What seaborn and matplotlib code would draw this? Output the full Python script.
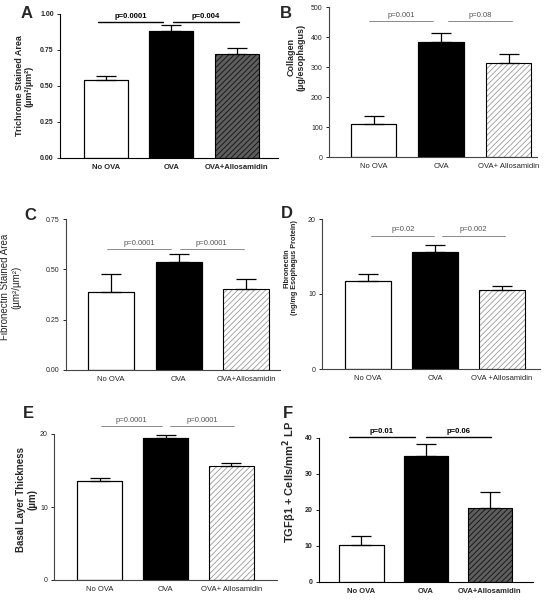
import numpy as np
import matplotlib
matplotlib.use("Agg")
import matplotlib.pyplot as plt
import seaborn as sns

sns.set_style("ticks")
plt.rcParams["font.family"] = ["Liberation Sans", "DejaVu Sans"]
plt.rcParams["hatch.linewidth"] = 0.6

# data
groups = ["No OVA", "OVA", "OVA+Allosamidin"]

trichrome = [0.54, 0.884, 0.722]
trichrome_err = [0.028, 0.037, 0.039]
trichrome_p = ["p=0.0001", "p=0.004"]

collagen = [111, 382, 314]
collagen_err = [26, 31, 30]
collagen_p = ["p=0.001", "p=0.08"]

fibro_area = [0.389, 0.538, 0.401]
fibro_area_err = [0.086, 0.036, 0.053]
fibro_area_p = ["p=0.0001", "p=0.0001"]

fibro_prot = [11.67, 15.55, 10.47]
fibro_prot_err = [0.98, 0.95, 0.63]
fibro_prot_p = ["p=0.02", "p=0.002"]

basal = [13.5, 19.4, 15.68]
basal_err = [0.45, 0.4, 0.37]
basal_p = ["p=0.0001", "p=0.0001"]

tgf = [10.3, 35.1, 20.5]
tgf_err = [2.5, 3.2, 4.6]
tgf_p = ["p=0.01", "p=0.06"]

W, H = 560, 600
fig = plt.figure(figsize=(W / 100, H / 100), dpi=100)


def px_axes(left, right, top, bottom):
    return fig.add_axes([left / W, 1 - bottom / H, (right - left) / W, (bottom - top) / H])


# lab_xy: right edge (x) and centre (y) of the y label, in pixels
panels = [
    dict(letter="A", vals=trichrome, err=trichrome_err, p=trichrome_p,
         ylim=(0, 1.0), yticks=[0, 0.25, 0.5, 0.75, 1.0], fmt="{:.2f}",
         box=(60, 278, 14, 158), xlim=(-0.7, 2.63), width=0.67,
         ylabel="Trichrome Stained Area\n(µm²/µm²)", lab_xy=(34, 86), lab_fs=6.5, lab_w="bold",
         pline=0.942, spans=[(-0.12, 0.87), (1.02, 2.03)], dark=True,
         xlabels=["No OVA", "OVA", "OVA+Allosamidin"], letter_xy=(27, 13)),
    dict(letter="B", vals=collagen, err=collagen_err, p=collagen_p,
         ylim=(0, 500), yticks=[0, 100, 200, 300, 400, 500], fmt="{:.0f}",
         box=(329, 537, 7, 157), xlim=(-0.66, 2.42), width=0.67,
         ylabel="Collagen\n(µg/esophagus)", lab_xy=(305, 57), lab_fs=6.5, lab_w="bold",
         pline=453, spans=[(-0.07, 0.88), (1.1, 2.05)], dark=False,
         xlabels=["No OVA", "OVA", "OVA+ Allosamidin"], letter_xy=(286, 13)),
    dict(letter="C", vals=fibro_area, err=fibro_area_err, p=fibro_area_p,
         ylim=(0, 0.75), yticks=[0, 0.25, 0.5, 0.75], fmt="{:.2f}",
         box=(66, 280, 219, 370), xlim=(-0.67, 2.5), width=0.68,
         ylabel="Fibronectin Stained Area\n(µm²/µm²)", lab_xy=(21, 287), lab_fs=7, lab_w="normal",
         pline=0.601, spans=[(-0.06, 0.89), (1.02, 1.96)], dark=False,
         xlabels=["No OVA", "OVA", "OVA+Allosamidin"], letter_xy=(30, 216)),
    dict(letter="D", vals=fibro_prot, err=fibro_prot_err, p=fibro_prot_p,
         ylim=(0, 20), yticks=[0, 10, 20], fmt="{:.0f}",
         box=(322, 540, 219, 369), xlim=(-0.69, 2.57), width=0.68,
         ylabel="Fibronectin\n(ng/mg Esophagus Protein)", lab_xy=(298, 268), lab_fs=5.2, lab_w="bold",
         pline=17.8, spans=[(0.05, 0.99), (1.1, 2.05)], dark=False,
         xlabels=["No OVA", "OVA", "OVA +Allosamidin"], letter_xy=(287, 213)),
    dict(letter="E", vals=basal, err=basal_err, p=basal_p,
         ylim=(0, 20), yticks=[0, 10, 20], fmt="{:.0f}",
         box=(54, 277, 434, 580), xlim=(-0.69, 2.69), width=0.68,
         ylabel="Basal Layer Thickness\n(µm)", lab_xy=(37, 500), lab_fs=7, lab_w="bold",
         pline=21.1, spans=[(0.02, 0.95), (1.07, 2.04)], dark=False,
         xlabels=["No OVA", "OVA", "OVA+ Allosamidin"], letter_xy=(28, 413)),
    dict(letter="F", vals=tgf, err=tgf_err, p=tgf_p,
         ylim=(0, 40), yticks=[0, 10, 20, 30, 40], fmt="{:.0f}",
         box=(319, 533, 438, 582), xlim=(-0.66, 2.67), width=0.69,
         ylabel="TGFβ1 + Cells/mm$^{\\mathbf{2}}$ LP", lab_xy=(299, 482), lab_fs=8, lab_w="bold",
         pline=40.2, spans=[(-0.19, 0.83), (1.0, 2.01)], dark=True,
         xlabels=["No OVA", "OVA", "OVA+Allosamidin"], letter_xy=(288, 413)),
]

for pn in panels:
    ax = px_axes(*pn["box"])
    dark = pn["dark"]
    x = np.arange(3)
    sns.barplot(x=x, y=pn["vals"], ax=ax, width=pn["width"], errorbar=None,
                palette=["white", "black", "white"], hue=x, legend=False,
                edgecolor="black", linewidth=0.8, native_scale=True)
    hb = ax.patches[2]
    if dark:
        hb.set_facecolor("#5e5e5e")
        hb.set_hatch("//////")
        hb.set_edgecolor("#111111")
    else:
        hb.set_facecolor("white")
        hb.set_hatch("//////")
        hb.set_edgecolor("#9a9a9a")
    hb.set_linewidth(0)
    ax.bar(x, pn["vals"], width=pn["width"], facecolor="none", edgecolor="black",
           linewidth=0.8, zorder=3)
    ax.errorbar(x, pn["vals"], yerr=[np.zeros(3), pn["err"]], fmt="none",
                ecolor="black", elinewidth=0.9, capsize=7.5, capthick=0.9, zorder=4)

    ax.set_xlim(*pn["xlim"])
    ax.set_ylim(*pn["ylim"])
    ax.set_yticks(pn["yticks"])
    tick_w = "bold" if dark else "normal"
    ax.set_yticklabels([pn["fmt"].format(v) for v in pn["yticks"]], fontsize=5, fontweight=tick_w)
    ax.set_xticks(x)
    ax.set_xticklabels(pn["xlabels"], fontsize=5.5, fontweight=tick_w)
    ax.tick_params(axis="x", length=0, pad=4)
    ax.tick_params(axis="y", length=2.5, width=0.7, pad=2)
    ax.set_xlabel("")
    sns.despine(ax=ax)
    spine_c = "black" if dark else "#444444"
    for s in ["left", "bottom"]:
        ax.spines[s].set_color(spine_c)
        ax.spines[s].set_linewidth(0.8)

    ax.set_ylabel(pn["ylabel"], fontsize=pn["lab_fs"], fontweight=pn["lab_w"], linespacing=1.1)
    lx, ly = pn["lab_xy"]
    ax.yaxis.set_label_coords(lx / W, 1 - ly / H, transform=fig.transFigure)

    line_c = "black" if dark else "#777777"
    line_w = 1.0 if dark else 0.6
    txt_c = "black" if dark else "#555555"
    for (x0, x1), ptxt in zip(pn["spans"], pn["p"]):
        ax.plot([x0, x1], [pn["pline"], pn["pline"]], color=line_c, lw=line_w,
                clip_on=False, zorder=5)
        ax.annotate(ptxt, ((x0 + x1) / 2, pn["pline"]), xytext=(0, 1.5),
                    textcoords="offset points", ha="center", va="bottom",
                    fontsize=5.5, fontweight=tick_w, color=txt_c, annotation_clip=False)

    lx, ly = pn["letter_xy"]
    fig.text(lx / W, 1 - ly / H, pn["letter"], fontsize=12, fontweight="bold",
             ha="center", va="center")

fig.savefig("out.png", dpi=100)
